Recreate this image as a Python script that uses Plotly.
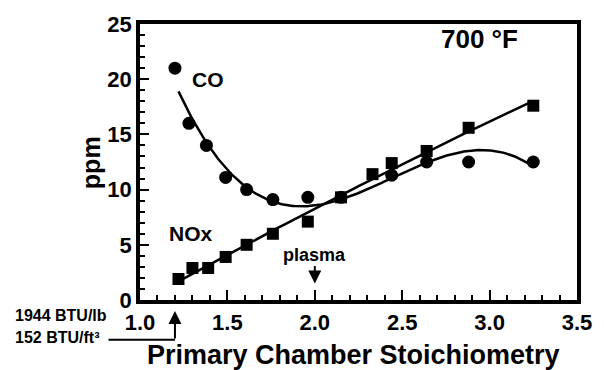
import numpy as np
import plotly.graph_objects as go

# Primary chamber stoichiometry (x) and measured emissions (ppm)
co_x = [1.20, 1.28, 1.38, 1.49, 1.61, 1.76, 1.96, 2.15, 2.44, 2.64, 2.88, 3.25]
co_ppm = [21.0, 16.0, 14.0, 11.1, 10.0, 9.1, 9.3, 9.3, 11.3, 12.5, 12.5, 12.5]

nox_x = [1.22, 1.30, 1.39, 1.49, 1.61, 1.76, 1.96, 2.15, 2.33, 2.44, 2.64, 2.88, 3.25]
nox_ppm = [1.9, 2.9, 2.9, 3.9, 5.0, 6.0, 7.1, 9.3, 11.4, 12.4, 13.5, 15.6, 17.6]

x_ticks = [1.0, 1.5, 2.0, 2.5, 3.0, 3.5]
y_ticks = [0, 5, 10, 15, 20, 25]

plasma_x = 2.0        # plasma operating point
low_stoich = 1.2      # 1944 BTU/lb, 152 BTU/ft3 feed

FONT = "Liberation Sans, Arial, sans-serif"
INK = "black"

# Smooth fits drawn through each data set
fit_x = np.linspace(1.22, 3.25, 200)
co_fit = np.polyval(np.polyfit(co_x, co_ppm, 3), fit_x)
nox_fit = np.polyval(np.polyfit(nox_x, nox_ppm, 2), fit_x)

fig = go.Figure()
fig.add_trace(go.Scatter(x=fit_x, y=co_fit, mode="lines",
                         line=dict(color=INK, width=2.5), hoverinfo="skip"))
fig.add_trace(go.Scatter(x=fit_x, y=nox_fit, mode="lines",
                         line=dict(color=INK, width=2.5), hoverinfo="skip"))
fig.add_trace(go.Scatter(x=co_x, y=co_ppm, mode="markers", name="CO",
                         marker=dict(symbol="circle", size=13, color=INK)))
fig.add_trace(go.Scatter(x=nox_x, y=nox_ppm, mode="markers", name="NOx",
                         marker=dict(symbol="square", size=12, color=INK)))

axis_common = dict(
    showline=True, linewidth=3.5, linecolor=INK, mirror=True,
    ticks="inside", tickwidth=2, tickcolor=INK,
    showgrid=False, zeroline=False,
    tickfont=dict(family=FONT, size=22, color=INK, weight="bold"),
)

fig.update_xaxes(
    range=[1.0, 3.5], tickvals=x_ticks, ticktext=[f"{v:.1f}" for v in x_ticks],
    ticklen=10,
    minor=dict(dtick=0.1, tick0=1.0, ticks="inside", ticklen=5, tickwidth=2, tickcolor=INK),
    **axis_common,
)
fig.update_yaxes(
    range=[0, 25], tickvals=y_ticks, ticklen=9,
    minor=dict(dtick=1, tick0=0, ticks="inside", ticklen=5, tickwidth=2, tickcolor=INK),
    **axis_common,
)

def label(text, x, y, size, xref="x", yref="y", xanchor="center", angle=0):
    fig.add_annotation(text=text, x=x, y=y, xref=xref, yref=yref, showarrow=False,
                       xanchor=xanchor, yanchor="middle", textangle=angle,
                       font=dict(family=FONT, size=size, color=INK, weight="bold"))

# Axis titles
label("Primary Chamber Stoichiometry", 0.489, -0.2, 27, xref="paper", yref="paper")
label("ppm", -0.112, 0.496, 25, xref="paper", yref="paper", angle=-90)

label("CO", 1.39, 20.0, 21)
label("NOx", 1.29, 6.0, 21)
label("700 °F", 2.94, 23.6, 26)
label("plasma", plasma_x, 4.1, 18)

# plasma arrow pointing down to the axis
fig.add_annotation(x=plasma_x, y=1.5, xref="x", yref="y", ax=0, ay=-19,
                   axref="pixel", ayref="pixel", text="", showarrow=True,
                   arrowhead=2, arrowsize=1.3, arrowwidth=2, arrowcolor=INK)

# Heating value notes below the axis, with an elbow arrow to stoichiometry 1.2
label("1944 BTU/lb", -0.29, -0.055, 16, xref="paper", yref="paper", xanchor="left")
label("152 BTU/ft³", -0.29, -0.137, 16, xref="paper", yref="paper", xanchor="left")
elbow_y = -0.144
arrow_px = (low_stoich - 1.0) / 2.5
fig.add_shape(type="line", xref="paper", yref="paper",
              x0=-0.072, x1=arrow_px, y0=elbow_y, y1=elbow_y,
              line=dict(color=INK, width=2))
fig.add_annotation(x=low_stoich, y=-0.04, xref="x", yref="paper",
                   ax=0, ay=29, axref="pixel", ayref="pixel", text="",
                   showarrow=True, arrowhead=2, arrowsize=1.3, arrowwidth=2,
                   arrowcolor=INK)

fig.update_layout(
    width=604, height=370,
    margin=dict(l=140, r=19, t=22, b=70),
    paper_bgcolor="white", plot_bgcolor="white",
    showlegend=False,
)

fig.write_html("out.html")
